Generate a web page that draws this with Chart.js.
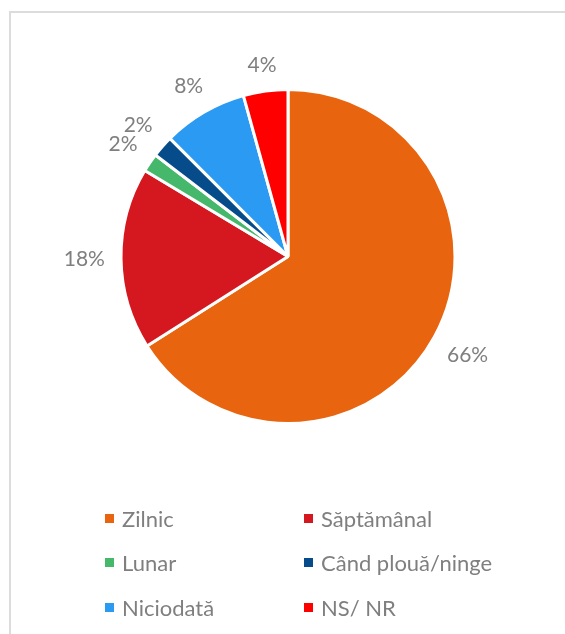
<!DOCTYPE html>
<html>
<head>
<meta charset="utf-8">
<script src="https://cdn.jsdelivr.net/npm/chart.js@4.4.0/dist/chart.umd.min.js"></script>
<style>
    body { margin: 0; background: #fff; width: 565px; height: 634px; overflow: hidden; position: relative; font-family: Lato, sans-serif; }
    .frame { position: absolute; left: 9px; top: 11px; width: 620px; height: 700px; border: 2px solid #dcdcdc; box-sizing: border-box; }
    #chart-pie { position: absolute; left: 0; top: 0; }
    .legend { position: absolute; left: 105px; top: 496px; display: grid; grid-template-columns: 199px 200px; }
    .legend-item { display: flex; align-items: center; height: 44.5px; font-size: 22px; color: #7f7f7f; white-space: nowrap; }
    .legend-box { width: 9px; height: 9px; margin-right: 8px; flex: none; }
</style>
</head>
<body>
<div class="frame"></div>
<canvas id="chart-pie" width="565" height="634"></canvas>
<div class="legend" id="legend"></div>
<script>
// data
var categories = ["Zilnic", "Săptămânal", "Lunar", "Când plouă/ninge", "Niciodată", "NS/ NR"];
var shares = [66.0, 17.6, 1.8, 2.1, 8.2, 4.3];
var sliceColors = ["#e9640f", "#d5171f", "#46b86b", "#064b8a", "#2b9af2", "#fe0000"];
var pctLabels = shares.map(function (v) { return Math.round(v) + "%"; });

// labels outside the slices, like excel "outside end"
var outsideLabels = {
    id: 'outsideLabels',
    afterDatasetsDraw: function (chart) {
        var ctx = chart.ctx;
        var meta = chart.getDatasetMeta(0);
        ctx.save();
        ctx.font = '21px Lato';
        ctx.fillStyle = '#7f7f7f';
        ctx.textAlign = 'center';
        ctx.textBaseline = 'middle';
        meta.data.forEach(function (arc, i) {
            var p = arc.getProps(['x', 'y', 'startAngle', 'endAngle', 'outerRadius'], true);
            var mid = (p.startAngle + p.endAngle) / 2;
            var text = pctLabels[i];
            var w = ctx.measureText(text).width;
            var c = Math.cos(mid), s = Math.sin(mid);
            var d = p.outerRadius + 16 + Math.abs(c) * w / 2 + Math.abs(s) * 8;
            ctx.fillText(text, p.x + c * d, p.y + s * d);
        });
        ctx.restore();
    }
};

var ctx1 = document.getElementById("chart-pie").getContext("2d");
var pie = new Chart(ctx1, {
    type: "pie",
    data: {
        labels: categories,
        datasets: [{
            data: shares,
            backgroundColor: sliceColors,
            borderColor: "#ffffff",
            borderWidth: 3
        }]
    },
    options: {
        responsive: false,
        animation: false,
        radius: 167,
        layout: {
            padding: { left: 122, right: 111, top: 90, bottom: 211 }
        },
        plugins: {
            legend: { display: false },
            tooltip: { enabled: false }
        }
    },
    plugins: [outsideLabels]
});

// legend in two columns
var legendEl = document.getElementById("legend");
pie.data.labels.forEach(function (name, i) {
    var item = document.createElement("div");
    item.className = "legend-item";
    var box = document.createElement("span");
    box.className = "legend-box";
    box.style.background = pie.data.datasets[0].backgroundColor[i];
    item.appendChild(box);
    item.appendChild(document.createTextNode(name));
    legendEl.appendChild(item);
});
</script>
</body>
</html>
